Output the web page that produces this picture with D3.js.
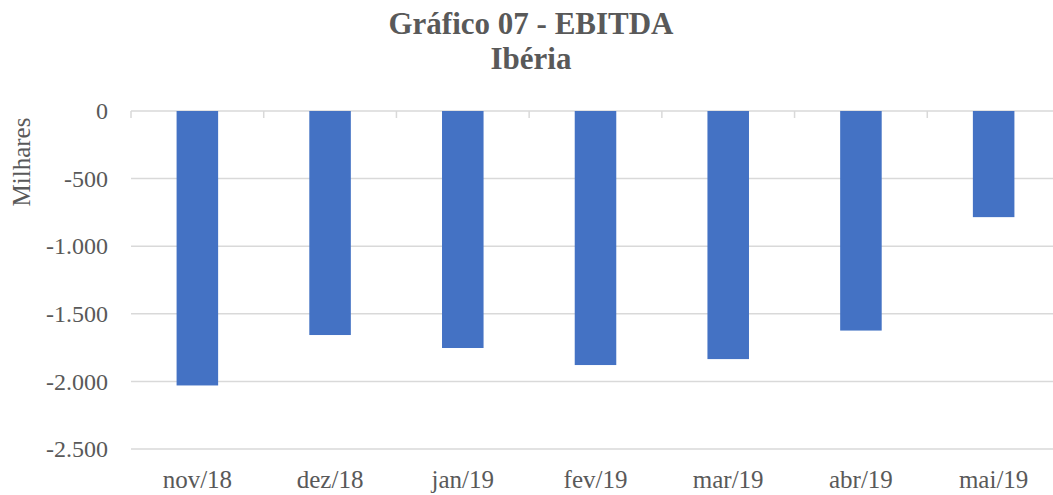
<!DOCTYPE html>
<html><head><meta charset="utf-8">
<script src="https://cdn.jsdelivr.net/npm/d3@7"></script>
<style>body{margin:0;background:#fff;overflow:hidden} svg text{font-family:"Liberation Serif","Times New Roman",serif;}</style>
</head><body>
<svg id="c" width="1053" height="495"></svg>
<script>
const categories = ["nov/18","dez/18","jan/19","fev/19","mar/19","abr/19","mai/19"];
const values = [-2030,-1657,-1753,-1879,-1835,-1624,-785];
const yTicks = [0,-500,-1000,-1500,-2000,-2500];
const titleLines = ["Gráfico 07 - EBITDA","Ibéria"];
const yAxisTitle = "Milhares";

(function(){
const svg = d3.select("#c");
const txt = "#595959";
const pLeft = 131, pRight = 1060, pTop = 111, pBottom = 449;

const x = d3.scaleBand().domain(categories).range([pLeft,pRight]).paddingInner(0.687).paddingOuter(0.3435);
const y = d3.scaleLinear().domain([0,-2500]).range([pTop,pBottom]);
const fmt = v => d3.format(",")(v).replace(/,/g,".").replace("−","-");

svg.append("g").selectAll("line").data(yTicks).join("line")
  .attr("x1",pLeft).attr("x2",pRight)
  .attr("y1",d=>y(d)).attr("y2",d=>y(d))
  .attr("stroke","#d9d9d9").attr("stroke-width",1.5);

const yAxis = d3.axisLeft(y).tickValues(yTicks).tickSize(0).tickPadding(0).tickFormat(fmt);
const ya = svg.append("g").attr("transform",`translate(108,0)`).call(yAxis).attr("font-family",null);
ya.select(".domain").remove();
ya.selectAll("text").style("font-size","24px").attr("fill",txt);

svg.append("g").selectAll("rect").data(values).join("rect")
  .attr("x",(d,i)=>x(categories[i]))
  .attr("width",x.bandwidth())
  .attr("y",d=>y(Math.max(0,d)))
  .attr("height",d=>Math.abs(y(d)-y(0)))
  .attr("fill","#4472c4");

const bounds = categories.map(c=>x(c)-x.step()*x.paddingOuter()).concat([pRight]);
svg.append("g").selectAll("line").data(bounds).join("line")
  .attr("x1",d=>d).attr("x2",d=>d).attr("y1",y(0)).attr("y2",y(0)+7)
  .attr("stroke","#d9d9d9").attr("stroke-width",1.5);

const xAxis = d3.axisBottom(x).tickSize(0).tickPadding(0);
const xa = svg.append("g").attr("transform","translate(0,470)").call(xAxis).attr("font-family",null);
xa.select(".domain").remove();
xa.selectAll("text").style("font-size","25px").attr("fill",txt).attr("dy","0.7em");

svg.append("g").selectAll("text").data(titleLines).join("text")
  .attr("x",531).attr("y",(d,i)=>34+i*35)
  .attr("text-anchor","middle").style("font-weight","bold")
  .style("font-size","31px").attr("fill",txt).text(d=>d);

svg.append("text").attr("transform","translate(30,162) rotate(-90)")
  .attr("text-anchor","middle").style("font-size","25px")
  .attr("fill",txt).text(yAxisTitle);
})();
</script>
</body></html>
